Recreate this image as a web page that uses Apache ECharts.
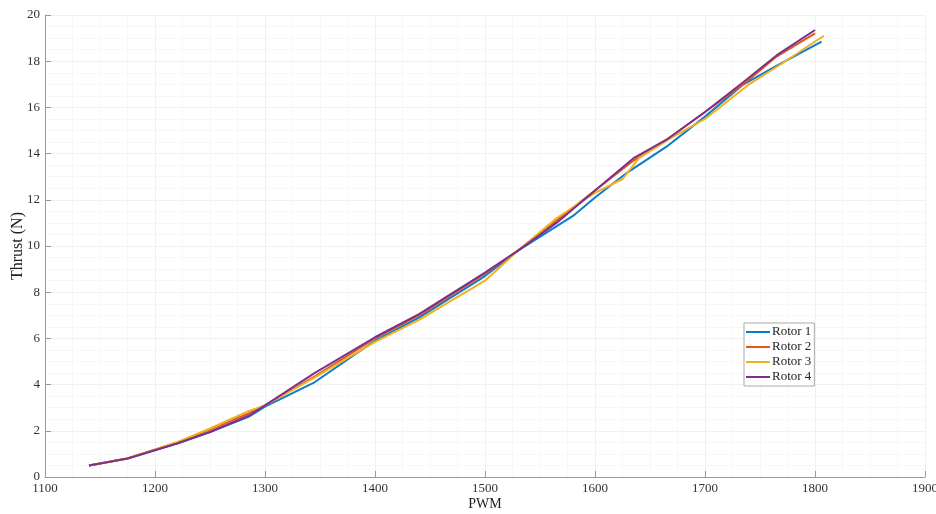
<!DOCTYPE html>
<html><head><meta charset="utf-8">
<script src="https://cdn.jsdelivr.net/npm/echarts@6/dist/echarts.min.js"></script>
<style>html,body{margin:0;padding:0;background:#fff}#c{width:936px;height:514px}</style>
</head><body><div id="c"></div>
<script>
const seriesNames = ['Rotor 1', 'Rotor 2', 'Rotor 3', 'Rotor 4'];
const rotor1Pwm = [1140, 1175, 1220, 1250, 1285, 1300, 1345, 1400, 1440, 1500, 1530, 1580, 1600, 1630, 1665, 1700, 1735, 1765, 1806];
const rotor1Thrust = [0.5, 0.8, 1.45, 1.95, 2.6, 3.05, 4.1, 5.9, 6.9, 8.7, 9.8, 11.3, 12.1, 13.2, 14.3, 15.6, 17.0, 17.8, 18.85];
const rotor2Pwm = [1140, 1175, 1220, 1250, 1285, 1300, 1345, 1400, 1440, 1500, 1530, 1565, 1600, 1635, 1665, 1700, 1735, 1765, 1800];
const rotor2Thrust = [0.5, 0.8, 1.5, 2.05, 2.75, 3.1, 4.35, 6.0, 7.0, 8.8, 9.8, 11.1, 12.4, 13.7, 14.6, 15.8, 17.0, 18.2, 19.2];
const rotor3Pwm = [1140, 1175, 1220, 1250, 1285, 1300, 1345, 1400, 1440, 1500, 1530, 1565, 1600, 1625, 1640, 1670, 1700, 1740, 1770, 1808];
const rotor3Thrust = [0.5, 0.8, 1.5, 2.1, 2.85, 3.1, 4.3, 5.85, 6.8, 8.5, 9.8, 11.2, 12.3, 12.9, 13.8, 14.7, 15.5, 17.0, 17.9, 19.1];
const rotor4Pwm = [1140, 1175, 1220, 1250, 1285, 1300, 1345, 1400, 1440, 1500, 1530, 1565, 1600, 1635, 1665, 1700, 1735, 1765, 1800];
const rotor4Thrust = [0.5, 0.8, 1.45, 1.95, 2.65, 3.1, 4.5, 6.05, 7.05, 8.85, 9.8, 11.0, 12.4, 13.8, 14.6, 15.8, 17.1, 18.25, 19.35];
const colors = ['#0a7ccc', '#e0571c', '#efb21e', '#7e2f8e'];

const pwms = [rotor1Pwm, rotor2Pwm, rotor3Pwm, rotor4Pwm];
const thrusts = [rotor1Thrust, rotor2Thrust, rotor3Thrust, rotor4Thrust];
const font = 'Liberation Serif';
const chart = echarts.init(document.getElementById('c'), null, {renderer: 'canvas'});
chart.setOption({
  animation: false,
  backgroundColor: '#fff',
  color: colors,
  grid: {left: 45, right: 11, top: 15, bottom: 37, containLabel: false, outerBoundsMode: 'none'},
  legend: {
    data: seriesNames,
    orient: 'vertical',
    left: 744, top: 323,
    itemWidth: 24, itemHeight: 2, itemGap: 1,
    icon: 'rect',
    backgroundColor: '#fff',
    borderColor: '#aaa', borderWidth: 1, borderRadius: 0,
    padding: [2, 3, 2, 2],
    textStyle: {fontFamily: font, fontSize: 13, lineHeight: 14, color: '#222', padding: [0, 0, 0, -3]}
  },
  xAxis: {
    type: 'value', min: 1100, max: 1900, interval: 100,
    name: 'PWM', nameLocation: 'middle', nameGap: 20, nameMoveOverlap: false,
    nameTextStyle: {fontFamily: font, fontSize: 14, color: '#222'},
    axisLine: {show: true, lineStyle: {color: '#999'}},
    axisTick: {show: true, inside: true, length: 6, lineStyle: {color: '#999'}},
    axisLabel: {fontFamily: font, fontSize: 13, color: '#333', margin: 5, formatter: v => String(v)},
    splitLine: {show: true, lineStyle: {color: '#f0f0f0'}},
    minorTick: {show: false, splitNumber: 4},
    minorSplitLine: {show: true, lineStyle: {color: '#f7f7f7'}}
  },
  yAxis: {
    type: 'value', min: 0, max: 20, interval: 2,
    name: 'Thrust (N)', nameLocation: 'middle', nameGap: 19, nameMoveOverlap: false,
    nameTextStyle: {fontFamily: font, fontSize: 16, color: '#222'},
    axisLine: {show: true, lineStyle: {color: '#999'}},
    axisTick: {show: true, inside: true, length: 6, lineStyle: {color: '#999'}},
    axisLabel: {fontFamily: font, fontSize: 13, color: '#333', margin: 5, formatter: v => String(v)},
    splitLine: {show: true, lineStyle: {color: '#f0f0f0'}},
    minorTick: {show: false, splitNumber: 4},
    minorSplitLine: {show: true, lineStyle: {color: '#f7f7f7'}}
  },
  series: seriesNames.map((n, i) => ({
    name: n, type: 'line', showSymbol: false, symbol: 'none', smooth: false,
    lineStyle: {width: 2, color: colors[i]},
    itemStyle: {color: colors[i]},
    data: pwms[i].map((p, j) => [p, thrusts[i][j]])
  }))
});
</script></body></html>
